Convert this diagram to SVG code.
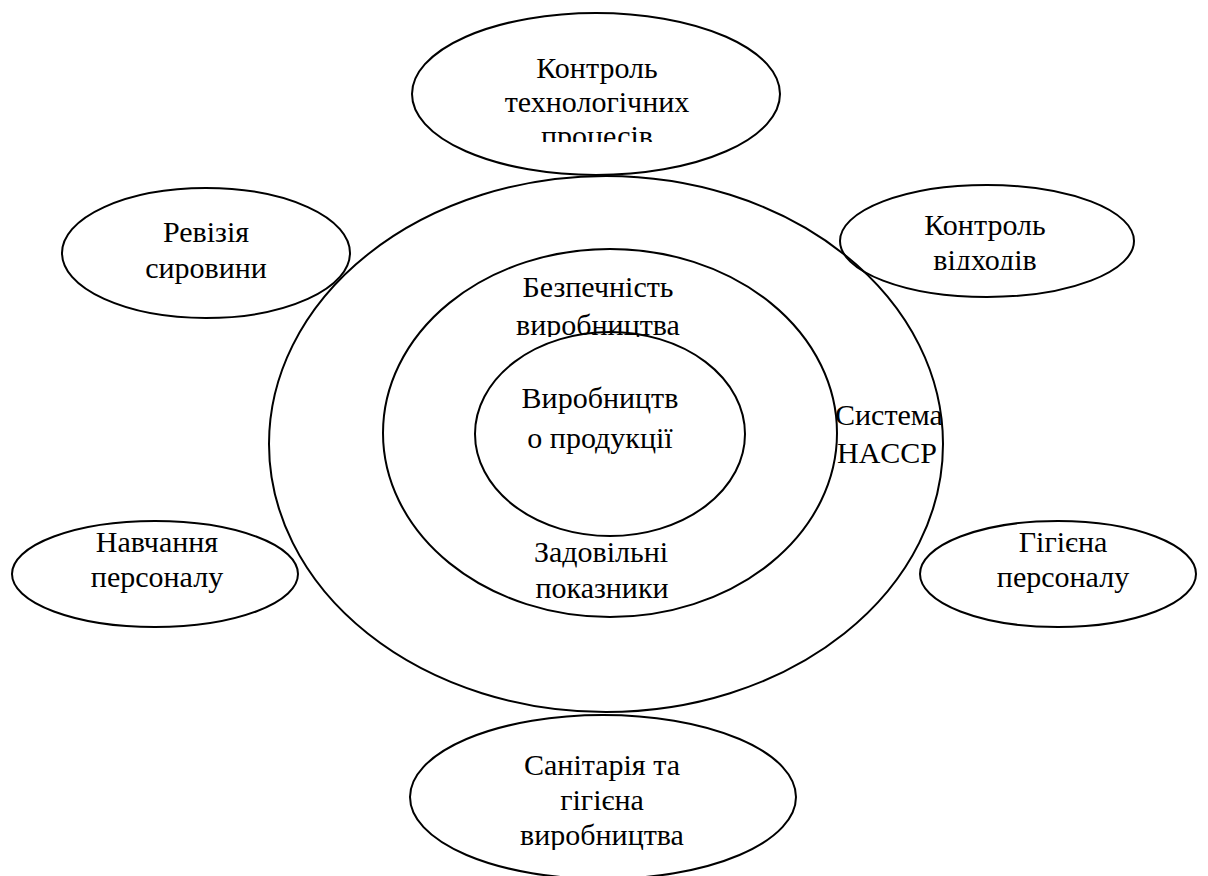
<svg xmlns="http://www.w3.org/2000/svg" width="1208" height="876" viewBox="0 0 1208 876">
<style>
.e{fill:none;stroke:#000;stroke-width:2}
.t{font-family:'Liberation Serif','DejaVu Serif',serif;font-size:30px;fill:#000;text-anchor:middle}
.l{text-anchor:start}
</style>
<defs>
<clipPath id="c1"><rect x="400" y="0" width="400" height="142"/></clipPath>
<clipPath id="c2"><rect x="830" y="180" width="320" height="90"/></clipPath>
<clipPath id="c3"><rect x="400" y="700" width="400" height="150"/></clipPath>
<clipPath id="c4"><rect x="380" y="250" width="460" height="87"/></clipPath>
</defs>
<rect width="1208" height="876" fill="#fff"/>
<g id="outer-haccp">
<ellipse class="e" cx="606" cy="444" rx="337" ry="268"/>
<text class="t l" x="835" y="425" font-family="Liberation Serif">Система</text>
<text class="t l" x="837" y="463" font-family="Liberation Serif">HACCP</text>
</g>
<g id="middle-safety">
<ellipse class="e" cx="610" cy="433" rx="227" ry="184"/>
<g clip-path="url(#c4)">
<text class="t" x="598" y="297">Безпечність</text>
<text class="t" x="598" y="335">виробництва</text>
</g>
<text class="t" x="601" y="562">Задовільні</text>
<text class="t" x="602" y="598">показники</text>
</g>
<g id="inner-production">
<ellipse class="e" cx="610" cy="434" rx="135" ry="102"/>
<text class="t" x="600" y="408">Виробництв</text>
<text class="t" x="600" y="448">о продукції</text>
</g>
<g id="node-process-control">
<ellipse class="e" cx="596" cy="94" rx="184" ry="81"/>
<g clip-path="url(#c1)">
<text class="t" x="597" y="78">Контроль</text>
<text class="t" x="597" y="112">технологічних</text>
<text class="t" x="597" y="146">процесів</text>
</g>
</g>
<g id="node-raw-revision">
<ellipse class="e" cx="206" cy="253" rx="144" ry="65"/>
<text class="t" x="206" y="242">Ревізія</text>
<text class="t" x="206" y="278">сировини</text>
</g>
<g id="node-waste-control">
<ellipse class="e" cx="987" cy="241" rx="147" ry="56"/>
<g clip-path="url(#c2)">
<text class="t" x="985" y="235">Контроль</text>
<text class="t" x="985" y="270">відходів</text>
</g>
</g>
<g id="node-staff-training">
<ellipse class="e" cx="155" cy="574" rx="143" ry="53"/>
<text class="t" x="157" y="552">Навчання</text>
<text class="t" x="157" y="587">персоналу</text>
</g>
<g id="node-staff-hygiene">
<ellipse class="e" cx="1058" cy="574" rx="138" ry="53"/>
<text class="t" x="1063" y="552">Гігієна</text>
<text class="t" x="1063" y="587">персоналу</text>
</g>
<g id="node-sanitation">
<ellipse class="e" cx="603" cy="797" rx="193" ry="82"/>
<g clip-path="url(#c3)">
<text class="t" x="602" y="775">Санітарія та</text>
<text class="t" x="602" y="810">гігієна</text>
<text class="t" x="602" y="845">виробництва</text>
</g>
</g>
</svg>
